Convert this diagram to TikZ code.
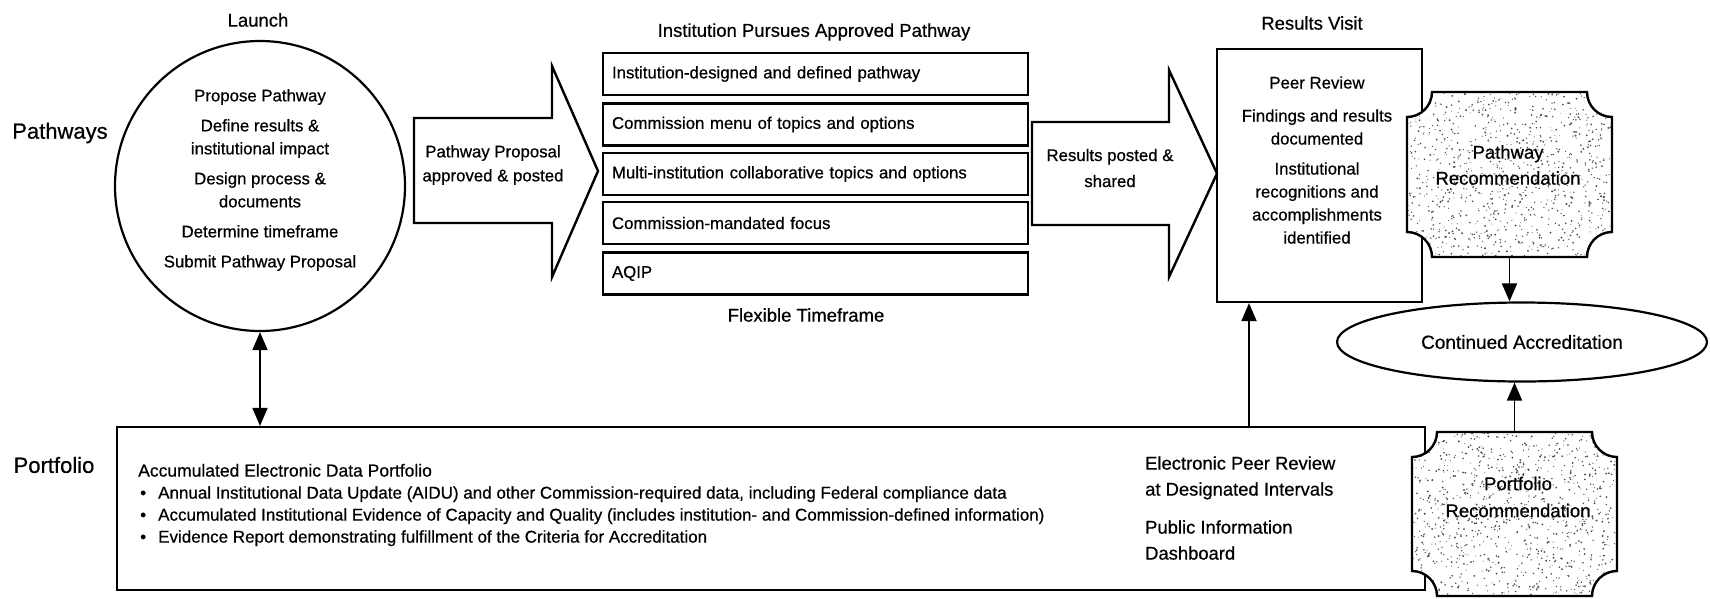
\documentclass[tikz,border=0pt]{standalone}
\usepackage{fontspec}
\setmainfont{Liberation Sans}[FakeBold=0.6]
\usetikzlibrary{shapes.geometric,arrows.meta,calc}
\def\plq#1#2#3#4{({#1+25},#2) -- ({#3-25},#2) arc[start angle=180,end angle=90,radius=25] -- (#3,{#4-25}) arc[start angle=270,end angle=180,radius=25] -- ({#1+25},#4) arc[start angle=0,end angle=-90,radius=25] -- (#1,{#2+25}) arc[start angle=90,end angle=0,radius=25] -- cycle}
\begin{document}
\begin{tikzpicture}[x=1pt,y=-1pt,
  every node/.style={font=\fontsize{16.8}{23}\selectfont, inner sep=0pt},
  ln/.style={line width=2.2pt},
  optbox/.style={draw, line width=2.2pt, minimum width=425pt, minimum height=42pt, text width=407pt, align=left},
  headtxt/.style={font=\fontsize{18.5}{22}\selectfont},
  sidetxt/.style={font=\fontsize{22}{26}\selectfont},
  conn/.style={line width=1.8pt, -{Triangle[length=18pt,width=15pt]}},
  dconn/.style={line width=1.8pt, {Triangle[length=18pt,width=15pt]}-{Triangle[length=18pt,width=15pt]}},
  blockarrow/.style={draw, line width=2.4pt, line join=miter, fill=white},
  plqline/.style={draw, line width=2.4pt},
  speck/.style={fill=black!70},
]
\useasboundingbox (0,0) rectangle (1710,598);
\pgfmathsetseed{7}

% side labels and headings
\node[sidetxt] (lpath) at (60,133) {Pathways};
\node[sidetxt] (lport) at (54,465) {Portfolio};
\node[headtxt] (hlaunch) at (258,20) {Launch};
\node[headtxt] (hinst) at (814,32) {Institution Pursues Approved Pathway};
\node[headtxt] (hflex) at (806,315) {Flexible Timeframe};
\node[headtxt] (hres) at (1312,23) {Results Visit};

% launch circle
\node[draw, circle, ln, minimum size=290pt] (launch) at (260,186) {};
\node[align=center] (launchT) at (260,180) {Propose Pathway\\[7pt]Define results \&\\institutional impact\\[7pt]Design process \&\\documents\\[7pt]Determine timeframe\\[7pt]Submit Pathway Proposal};

% block arrow 1
\draw[blockarrow] (414,118) -- (552,118) -- (552,66) -- (598,171) -- (552,277) -- (552,223) -- (414,223) -- cycle;
\node[align=center, font=\fontsize{16.8}{24}\selectfont] (a1T) at (493,165) {Pathway Proposal\\approved \& posted};

% option boxes
\node[optbox] (o1) at (815.5,74) {Institution-designed and defined pathway};
\node[optbox] (o2) at (815.5,124.5) {Commission menu of topics and options};
\node[optbox] (o3) at (815.5,174) {Multi-institution collaborative topics and options};
\node[optbox] (o4) at (815.5,223) {Commission-mandated focus};
\node[optbox] (o5) at (815.5,273.5) {AQIP};

% block arrow 2
\draw[blockarrow] (1032,122) -- (1169,122) -- (1169,70) -- (1217,173.5) -- (1169,277) -- (1169,225) -- (1032,225) -- cycle;
\node[align=center, font=\fontsize{16.8}{26}\selectfont] (a2T) at (1110,168) {Results posted \&\\shared};

% results visit box
\node[draw, ln, minimum width=205pt, minimum height=253pt] (rv) at (1319.5,175.5) {};
\node[align=center] (rvT) at (1317,160) {Peer Review\\[10pt]Findings and results\\documented\\[7pt]Institutional\\recognitions and\\accomplishments\\identified};

% bottom portfolio box
\node[draw, ln, minimum width=1308pt, minimum height=163pt] (port) at (771,508.5) {};
\node[anchor=west, align=left, font=\fontsize{17}{22}\selectfont] (portL) at (138,505) {{\fontsize{17.5}{22}\selectfont Accumulated Electronic Data Portfolio}\\
\hspace*{2pt}\makebox[18pt][l]{•}Annual Institutional Data Update (AIDU) and other Commission-required data, including Federal compliance data\\
\hspace*{2pt}\makebox[18pt][l]{•}Accumulated Institutional Evidence of Capacity and Quality (includes institution- and Commission-defined information)\\
\hspace*{2pt}\makebox[18pt][l]{•}Evidence Report demonstrating fulfillment of the Criteria for Accreditation};
\node[anchor=west, align=left, font=\fontsize{18.4}{26}\selectfont] (portR) at (1145,508) {Electronic Peer Review\\at Designated Intervals\\[12pt]Public Information\\Dashboard};

% pathway recommendation plaque
\fill[white] \plq{1407}{92}{1612}{257};
\begin{scope}
\clip \plq{1407}{92}{1612}{257};
\foreach \i in {1,...,1000} {\fill[speck] ({1407+205*rnd},{92+165*rnd}) circle ({0.45+0.6*rnd});}
\end{scope}
\draw[plqline] \plq{1407}{92}{1612}{257};
\node[minimum width=205pt, minimum height=165pt] (prec) at (1509.5,174.5) {};
\node[align=center, font=\fontsize{18.5}{26}\selectfont] (precT) at (1508,165) {Pathway\\Recommendation};

% portfolio recommendation plaque
\fill[white] \plq{1412}{432}{1617}{596};
\begin{scope}
\clip \plq{1412}{432}{1617}{596};
\foreach \i in {1,...,1000} {\fill[speck] ({1412+205*rnd},{432+164*rnd}) circle ({0.45+0.6*rnd});}
\end{scope}
\draw[plqline] \plq{1412}{432}{1617}{596};
\node[minimum width=205pt, minimum height=164pt] (porec) at (1514.5,514) {};
\node[align=center, font=\fontsize{18.5}{27}\selectfont] (porecT) at (1518,497) {Portfolio\\Recommendation};

% continued accreditation
\node[draw, ellipse, ln, minimum width=370pt, minimum height=79pt, font=\fontsize{19}{22}\selectfont] (ca) at (1522,342) {Continued Accreditation};

% connectors
\coordinate (rvx) at (1249,0);
\draw[dconn] (launch.south) -- (launch.south |- port.north);
\draw[conn] (port.north -| rvx) -- (rv.south -| rvx);
\draw[conn] (prec.south) -- (prec.south |- ca.north);
\draw[conn] (porec.north) -- (porec.north |- ca.south);
\end{tikzpicture}
\end{document}
